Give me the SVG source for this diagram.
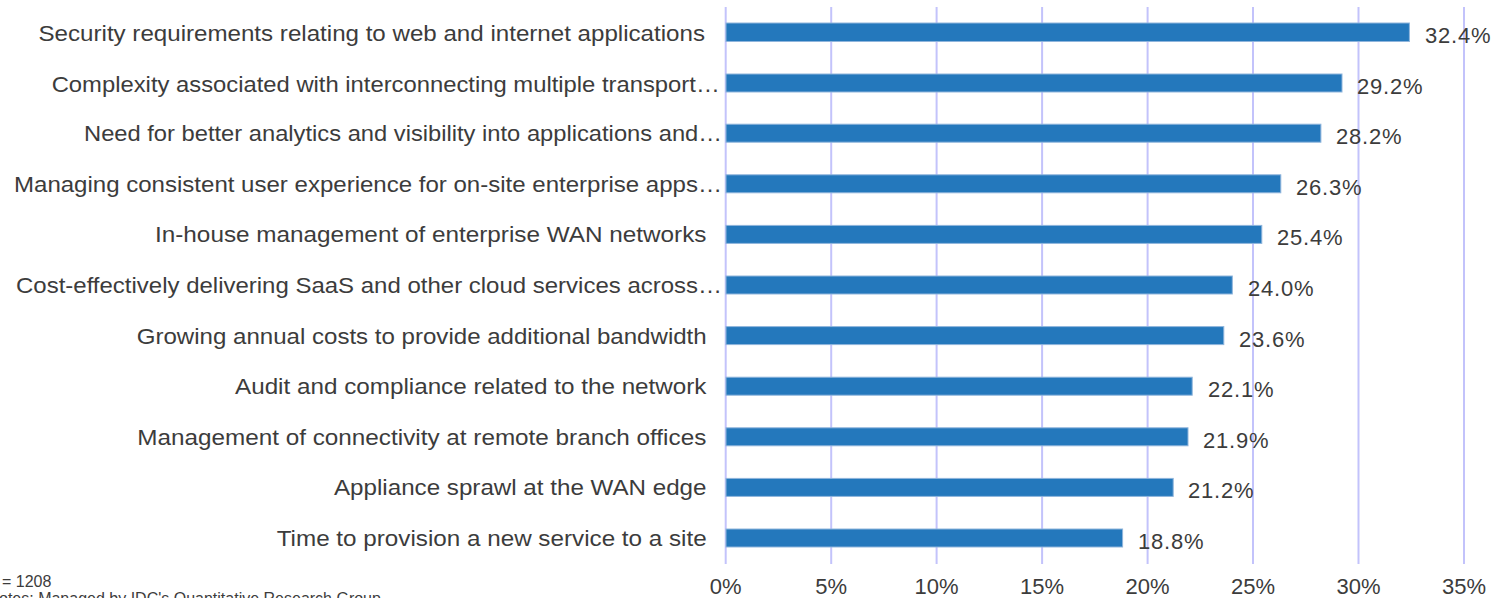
<svg xmlns="http://www.w3.org/2000/svg" width="1499" height="598" viewBox="0 0 1499 598">
<style>
.grid{stroke:#c3c3fb;stroke-width:2}
.bar{fill:#2478bc;stroke:#8fb5dc;stroke-width:1}
.cat{font-family:"Liberation Sans",Arial,sans-serif;font-size:22px;fill:#3c3c3c;text-anchor:start}
.val{font-family:"Liberation Sans",Arial,sans-serif;font-size:22px;fill:#3c3c3c;letter-spacing:0.8px}
.ax{font-family:"Liberation Sans",Arial,sans-serif;font-size:22px;fill:#3c3c3c;text-anchor:middle}
.note{font-family:"Liberation Sans",Arial,sans-serif;font-size:16px;fill:#3c3c3c}
</style>
<rect width="1499" height="598" fill="#ffffff"/>
<g id="grid">
<line class="grid" x1="725.7" y1="7" x2="725.7" y2="564"/>
<line class="grid" x1="831.2" y1="7" x2="831.2" y2="564"/>
<line class="grid" x1="936.6" y1="7" x2="936.6" y2="564"/>
<line class="grid" x1="1042.1" y1="7" x2="1042.1" y2="564"/>
<line class="grid" x1="1147.6" y1="7" x2="1147.6" y2="564"/>
<line class="grid" x1="1253.0" y1="7" x2="1253.0" y2="564"/>
<line class="grid" x1="1358.5" y1="7" x2="1358.5" y2="564"/>
<line class="grid" x1="1464.0" y1="7" x2="1464.0" y2="564"/>
</g>
<g id="axis-labels">
<text class="ax" x="725.7" y="594">0%</text>
<text class="ax" x="831.2" y="594">5%</text>
<text class="ax" x="936.6" y="594">10%</text>
<text class="ax" x="1042.1" y="594">15%</text>
<text class="ax" x="1147.6" y="594">20%</text>
<text class="ax" x="1253.0" y="594">25%</text>
<text class="ax" x="1358.5" y="594">30%</text>
<text class="ax" x="1464.0" y="594">35%</text>
</g>
<g id="row1">
<text class="cat" x="38.5" y="41" textLength="666.5" lengthAdjust="spacingAndGlyphs">Security requirements relating to web and internet applications</text>
<rect class="bar" x="726" y="23" width="683.4" height="18.5"/>
<text class="val" x="1425" y="43">32.4%</text>
</g>
<g id="row2">
<text class="cat" x="51.7" y="91.5" textLength="668" lengthAdjust="spacingAndGlyphs">Complexity associated with interconnecting multiple transport…</text>
<rect class="bar" x="726" y="74" width="616.0" height="18"/>
<text class="val" x="1357" y="94">29.2%</text>
</g>
<g id="row3">
<text class="cat" x="84" y="141" textLength="638" lengthAdjust="spacingAndGlyphs">Need for better analytics and visibility into applications and…</text>
<rect class="bar" x="726" y="124.2" width="594.9" height="18"/>
<text class="val" x="1336" y="144.2">28.2%</text>
</g>
<g id="row4">
<text class="cat" x="14" y="191.8" textLength="708" lengthAdjust="spacingAndGlyphs">Managing consistent user experience for on-site enterprise apps…</text>
<rect class="bar" x="726" y="174.8" width="554.8" height="18"/>
<text class="val" x="1296" y="194.8">26.3%</text>
</g>
<g id="row5">
<text class="cat" x="155" y="242.4" textLength="551.5" lengthAdjust="spacingAndGlyphs">In-house management of enterprise WAN networks</text>
<rect class="bar" x="726" y="225.4" width="535.8" height="18"/>
<text class="val" x="1277" y="245.4">25.4%</text>
</g>
<g id="row6">
<text class="cat" x="16" y="293" textLength="706" lengthAdjust="spacingAndGlyphs">Cost-effectively delivering SaaS and other cloud services across…</text>
<rect class="bar" x="726" y="276" width="506.3" height="18"/>
<text class="val" x="1248" y="296">24.0%</text>
</g>
<g id="row7">
<text class="cat" x="136.7" y="343.6" textLength="570" lengthAdjust="spacingAndGlyphs">Growing annual costs to provide additional bandwidth</text>
<rect class="bar" x="726" y="326.6" width="497.8" height="18"/>
<text class="val" x="1239" y="346.6">23.6%</text>
</g>
<g id="row8">
<text class="cat" x="235" y="394.2" textLength="471.5" lengthAdjust="spacingAndGlyphs">Audit and compliance related to the network</text>
<rect class="bar" x="726" y="377.2" width="466.2" height="18"/>
<text class="val" x="1208" y="397.2">22.1%</text>
</g>
<g id="row9">
<text class="cat" x="137.3" y="444.8" textLength="569" lengthAdjust="spacingAndGlyphs">Management of connectivity at remote branch offices</text>
<rect class="bar" x="726" y="427.8" width="462.0" height="18"/>
<text class="val" x="1203" y="447.8">21.9%</text>
</g>
<g id="row10">
<text class="cat" x="334" y="495.4" textLength="372.5" lengthAdjust="spacingAndGlyphs">Appliance sprawl at the WAN edge</text>
<rect class="bar" x="726" y="478.4" width="447.2" height="18"/>
<text class="val" x="1188" y="498.4">21.2%</text>
</g>
<g id="row11">
<text class="cat" x="276.7" y="546" textLength="430" lengthAdjust="spacingAndGlyphs">Time to provision a new service to a site</text>
<rect class="bar" x="726" y="529" width="396.6" height="18"/>
<text class="val" x="1138" y="549">18.8%</text>
</g>
<g id="notes">
<text class="note" x="2" y="587">= 1208</text>
<text class="note" x="-1" y="604">otes: Managed by IDC's Quantitative Research Group</text>
</g>
</svg>
